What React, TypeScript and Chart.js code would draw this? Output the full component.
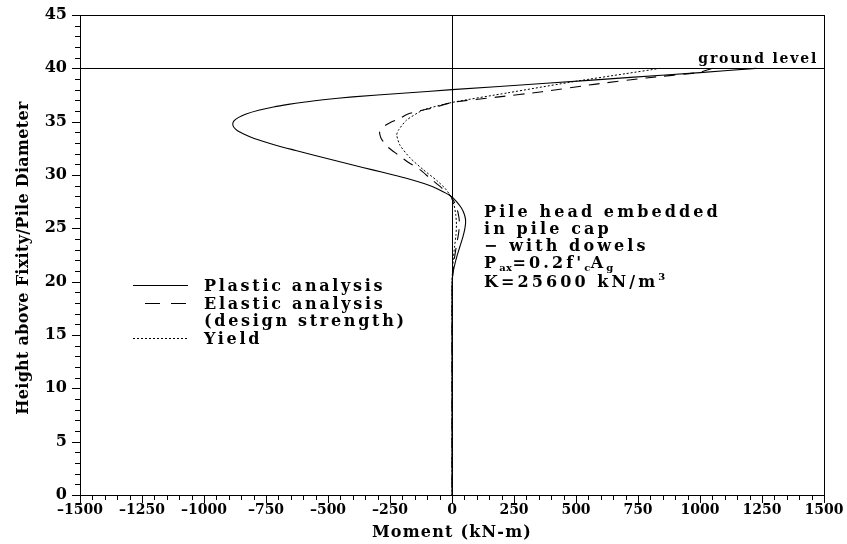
import React, { useEffect, useRef } from 'react';
import { Chart, registerables } from 'chart.js';

Chart.register(...registerables);

// ---------- axes ----------
const X_MIN = -1500;
const X_MAX = 1500;
const X_STEP = 250;
const X_MINOR = 50;
const Y_MIN = 0;
const Y_MAX = 45;
const Y_STEP = 5;
const Y_MINOR = 1;
const GROUND_LEVEL = 40;

const xTitle = 'Moment (kN-m)';
const yTitle = 'Height above Fixity/Pile Diameter';
const groundLabel = 'ground level';

// ---------- series (moment kN-m, height / pile diameter) ----------
const plasticMoment = [1225, 1000, 720, 380, 0, -200, -400, -520, -600, -660, -720, -780, -830, -862, -880, -884, -879, -865, -840, -805, -760, -700, -630, -560, -480, -400, -320, -240, -170, -110, -60, -25, 0, 20, 38, 50, 55, 52, 44, 32, 20, 10, 4, 1, 0, 0, 0, 0];
const plasticHeight = [40, 39.6, 39.15, 38.6, 38.0, 37.66, 37.32, 37.05, 36.82, 36.62, 36.38, 36.07, 35.72, 35.38, 35.05, 34.75, 34.45, 34.15, 33.85, 33.5, 33.15, 32.72, 32.3, 31.88, 31.4, 30.93, 30.48, 30.03, 29.6, 29.17, 28.72, 28.3, 27.95, 27.45, 26.9, 26.3, 25.7, 25.0, 24.2, 23.3, 22.4, 21.5, 20.8, 20.2, 19, 15, 8, 0];

const elasticMoment = [1050, 992, 782, 573, 363, 180, 0, -75, -115, -180, -210, -250, -278, -292, -285, -258, -218, -177, -129, -89, -42, -5, 15, 25, 30, 27, 18, 10, 4, 1, 0, 0, 0, 0];
const elasticHeight = [40, 39.6, 39.1, 38.5, 37.8, 37.3, 36.8, 36.3, 36.1, 35.7, 35.3, 34.9, 34.5, 34.0, 33.4, 32.6, 31.9, 31.2, 30.5, 29.7, 28.8, 28.0, 27.2, 26.4, 25.6, 24.6, 23.4, 22.2, 21.0, 20.0, 15, 10, 5, 0];

const yieldMoment = [840, 700, 503, 224, 0, -115, -183, -216, -223, -210, -169, -116, -62, -28, -5, 8, 15, 18, 16, 10, 5, 2, 0, 0, 0, 0];
const yieldHeight = [40, 39.5, 38.8, 37.7, 36.8, 36.1, 35.15, 34.2, 33.75, 32.8, 31.6, 30.5, 29.5, 28.75, 28.0, 27.2, 26.3, 25.4, 24.4, 23.2, 22.0, 21.0, 20.0, 15, 5, 0];

const seriesNames = ['Plastic analysis', 'Elastic analysis', 'Yield'];
const legendExtra = ['', '(design strength)', ''];

// annotation lines: segments with optional sub / sup
type Seg = { t: string; sub?: boolean; sup?: boolean };
const annotationLines: Seg[][] = [
  [{ t: 'Pile head embedded' }],
  [{ t: 'in pile cap' }],
  [{ t: '\u2212 with dowels' }],
  [{ t: 'P' }, { t: 'ax', sub: true }, { t: "=0.2f'" }, { t: 'c', sub: true }, { t: 'A' }, { t: 'g', sub: true }],
  [{ t: 'K=25600 kN/m' }, { t: '3', sup: true }],
];

const FONT = "'DejaVu Serif', 'Liberation Serif', serif";

function pts(xs: number[], ys: number[]) {
  return xs.map((x, i) => ({ x, y: ys[i] }));
}

function drawRich(ctx: CanvasRenderingContext2D, segs: Seg[], x: number, y: number, size: number, spacing: number) {
  let cx = x;
  for (const s of segs) {
    const small = s.sub || s.sup;
    ctx.font = small ? `bold ${Math.round(size * 0.62)}px ${FONT}` : `bold ${size}px ${FONT}`;
    (ctx as any).letterSpacing = small ? '0.5px' : `${spacing}px`;
    const dy = s.sub ? 3 : s.sup ? -7 : 0;
    ctx.fillText(s.t, cx, y + dy);
    cx += ctx.measureText(s.t).width;
  }
}

const overlayPlugin = {
  id: 'overlay',
  afterDraw(chart: any) {
    const ctx: CanvasRenderingContext2D = chart.ctx;
    const xs = chart.scales.x;
    const ys = chart.scales.y;
    const { left, right, top, bottom } = chart.chartArea;
    ctx.save();
    ctx.strokeStyle = '#000';
    ctx.fillStyle = '#000';
    ctx.lineWidth = 1;
    ctx.setLineDash([]);

    // frame
    ctx.strokeRect(Math.round(left) + 0.5, Math.round(top) + 0.5, Math.round(right - left), Math.round(bottom - top));

    // ground level line and zero line
    const gy = Math.round(ys.getPixelForValue(GROUND_LEVEL)) + 0.5;
    ctx.beginPath();
    ctx.moveTo(left, gy);
    ctx.lineTo(right, gy);
    const zx = Math.round(xs.getPixelForValue(0)) + 0.5;
    ctx.moveTo(zx, top);
    ctx.lineTo(zx, bottom);
    ctx.stroke();

    // tick marks
    ctx.beginPath();
    for (let v = X_MIN; v <= X_MAX; v += X_MINOR) {
      const px = Math.round(xs.getPixelForValue(v)) + 0.5;
      const len = v % X_STEP === 0 ? 8 : 5;
      ctx.moveTo(px, bottom);
      ctx.lineTo(px, bottom + len);
    }
    for (let v = Y_MIN; v <= Y_MAX; v += Y_MINOR) {
      const py = Math.round(ys.getPixelForValue(v)) + 0.5;
      const len = v % Y_STEP === 0 ? 8 : 5;
      ctx.moveTo(left, py);
      ctx.lineTo(left - len, py);
    }
    ctx.stroke();

    // axis titles
    ctx.textBaseline = 'alphabetic';
    ctx.textAlign = 'center';
    ctx.font = `bold 16px ${FONT}`;
    (ctx as any).letterSpacing = '1.2px';
    ctx.fillText(xTitle, (left + right) / 2, 537);
    ctx.save();
    ctx.translate(28, (top + bottom) / 2 + 3);
    ctx.rotate(-Math.PI / 2);
    (ctx as any).letterSpacing = '0.3px';
    ctx.fillText(yTitle, 0, 0);
    ctx.restore();

    // ground level label
    ctx.textAlign = 'right';
    ctx.font = `bold 14px ${FONT}`;
    (ctx as any).letterSpacing = '1.8px';
    ctx.fillText(groundLabel, right - 6, gy - 6);

    // legend
    ctx.textAlign = 'left';
    const ds = chart.data.datasets;
    const legendRows = [285, 302.5, 337.5];
    const sampleX0 = 133;
    const sampleX1 = 188;
    ds.forEach((d: any, i: number) => {
      const cy = legendRows[i];
      ctx.beginPath();
      ctx.lineWidth = d.borderWidth;
      ctx.setLineDash(i === 1 ? [15, 11] : d.borderDash || []);
      ctx.moveTo(i === 1 ? 145 : sampleX0, Math.round(cy) + 0.5);
      ctx.lineTo(sampleX1, Math.round(cy) + 0.5);
      ctx.stroke();
      ctx.setLineDash([]);
      ctx.font = `bold 16px ${FONT}`;
      (ctx as any).letterSpacing = '2.7px';
      ctx.fillText(d.label, 204, cy + 6);
      if (legendExtra[i]) {
        ctx.fillText(legendExtra[i], 204, cy + 6 + 17.5);
      }
    });

    // annotation
    const baselines = [217, 234, 251, 268, 287];
    annotationLines.forEach((line, i) => {
      drawRich(ctx, line, 484, baselines[i], 16, 3.1);
    });

    (ctx as any).letterSpacing = '0px';
    ctx.restore();
  },
};

export default function App() {
  const ref = useRef<HTMLCanvasElement>(null);

  useEffect(() => {
    if (!ref.current) return;
    const common = {
      showLine: true,
      pointRadius: 0,
      borderColor: '#000',
      backgroundColor: '#000',
      borderWidth: 1.1,
      tension: 0.2,
      fill: false,
    };
    const chart = new Chart(ref.current, {
      type: 'scatter',
      data: {
        datasets: [
          { ...common, label: seriesNames[0], data: pts(plasticMoment, plasticHeight) },
          { ...common, label: seriesNames[1], data: pts(elasticMoment, elasticHeight), borderDash: [11, 8] },
          { ...common, label: seriesNames[2], data: pts(yieldMoment, yieldHeight), borderDash: [2, 2], borderWidth: 1 },
        ],
      },
      options: {
        animation: false,
        responsive: false,
        maintainAspectRatio: false,
        layout: { padding: { left: 0, right: 23, top: 15, bottom: 0 } },
        plugins: { legend: { display: false }, tooltip: { enabled: false } },
        scales: {
          x: {
            type: 'linear',
            min: X_MIN,
            max: X_MAX,
            grid: { display: false, drawTicks: true, tickLength: 6 },
            border: { display: false },
            afterFit: (s: any) => {
              s.height = 49;
            },
            ticks: {
              stepSize: X_STEP,
              autoSkip: false,
              maxRotation: 0,
              padding: 1,
              color: '#000',
              font: { family: FONT, size: 14, weight: 'bold' },
              callback: (v: any) => (v < 0 ? '\u2013' + Math.abs(v) : String(v)),
            },
          },
          y: {
            type: 'linear',
            min: Y_MIN,
            max: Y_MAX,
            grid: { display: false, drawTicks: true, tickLength: 11 },
            border: { display: false },
            afterFit: (s: any) => {
              s.width = 80;
            },
            ticks: {
              stepSize: Y_STEP,
              autoSkip: false,
              padding: 2,
              color: '#000',
              font: { family: FONT, size: 16, weight: 'bold' },
            },
          },
        },
      },
      plugins: [overlayPlugin],
    } as any);
    return () => chart.destroy();
  }, []);

  return (
    <div style={{ position: 'absolute', left: 0, top: 0, width: 847, height: 544, background: '#fff' }}>
      <canvas ref={ref} width={847} height={544} style={{ display: 'block', width: 847, height: 544 }} />
    </div>
  );
}
